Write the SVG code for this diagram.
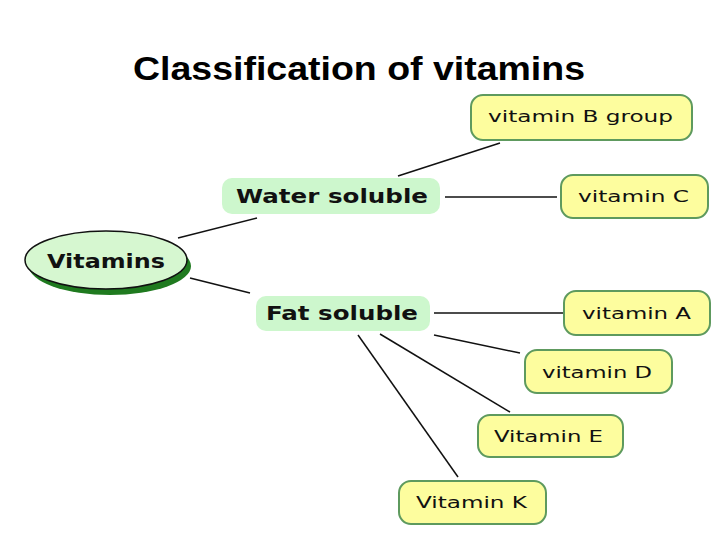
<svg xmlns="http://www.w3.org/2000/svg" width="720" height="540" viewBox="0 0 720 540">
<style>
.title{font-family:"Liberation Sans",Arial,sans-serif;font-weight:bold;font-size:34px;fill:#000}
.leaf{fill:#fdfd9e;stroke:#5e9a5e;stroke-width:2}
.leaft{font-family:"DejaVu Sans",Verdana,sans-serif;font-size:15px;fill:#111}
.mid{fill:#cdf7cd}
.midt{font-family:"DejaVu Sans",Verdana,sans-serif;font-weight:bold;font-size:20px;fill:#111}
.conn line{stroke:#111;stroke-width:1.5}
</style>
<rect width="720" height="540" fill="#fff"/>
<text class="title" x="133" y="80" textLength="452" lengthAdjust="spacingAndGlyphs">Classification of vitamins</text>
<g class="conn">
<line x1="178" y1="238" x2="257" y2="218"/>
<line x1="190" y1="278" x2="250" y2="293"/>
<line x1="398" y1="176" x2="500" y2="143"/>
<line x1="445" y1="197" x2="557" y2="197"/>
<line x1="434" y1="313" x2="563" y2="313"/>
<line x1="434" y1="335" x2="520" y2="353"/>
<line x1="380" y1="334" x2="510" y2="412"/>
<line x1="358" y1="335" x2="458" y2="477"/>
</g>
<g id="vitamins">
<ellipse cx="110" cy="266" rx="81" ry="29" fill="#1f7a1f"/>
<ellipse cx="106" cy="260" rx="81" ry="29" fill="#d6f7d0" stroke="#111" stroke-width="1.5"/>
<text class="midt" x="106" y="268" text-anchor="middle" textLength="118" lengthAdjust="spacingAndGlyphs">Vitamins</text>
</g>
<g id="water">
<rect class="mid" x="222" y="178" width="218" height="36" rx="10"/>
<text class="midt" x="236" y="203" textLength="192" lengthAdjust="spacingAndGlyphs">Water soluble</text>
</g>
<g id="fat">
<rect class="mid" x="256" y="296" width="174" height="35" rx="10"/>
<text class="midt" x="266" y="320" textLength="152" lengthAdjust="spacingAndGlyphs">Fat soluble</text>
</g>
<g id="vitB">
<rect class="leaf" x="471" y="95" width="221" height="45" rx="12"/>
<text class="leaft" x="488" y="122" textLength="185" lengthAdjust="spacingAndGlyphs">vitamin B group</text>
</g>
<g id="vitC">
<rect class="leaf" x="561" y="175" width="147" height="43" rx="12"/>
<text class="leaft" x="578" y="202" textLength="111" lengthAdjust="spacingAndGlyphs">vitamin C</text>
</g>
<g id="vitA">
<rect class="leaf" x="564" y="291" width="146" height="44" rx="12"/>
<text class="leaft" x="582" y="319" textLength="109" lengthAdjust="spacingAndGlyphs">vitamin A</text>
</g>
<g id="vitD">
<rect class="leaf" x="525" y="350" width="147" height="43" rx="12"/>
<text class="leaft" x="542" y="378" textLength="110" lengthAdjust="spacingAndGlyphs">vitamin D</text>
</g>
<g id="vitE">
<rect class="leaf" x="478" y="415" width="145" height="42" rx="12"/>
<text class="leaft" x="494" y="442" textLength="109" lengthAdjust="spacingAndGlyphs">Vitamin E</text>
</g>
<g id="vitK">
<rect class="leaf" x="399" y="481" width="147" height="43" rx="12"/>
<text class="leaft" x="416" y="508" textLength="111" lengthAdjust="spacingAndGlyphs">Vitamin K</text>
</g>
</svg>
